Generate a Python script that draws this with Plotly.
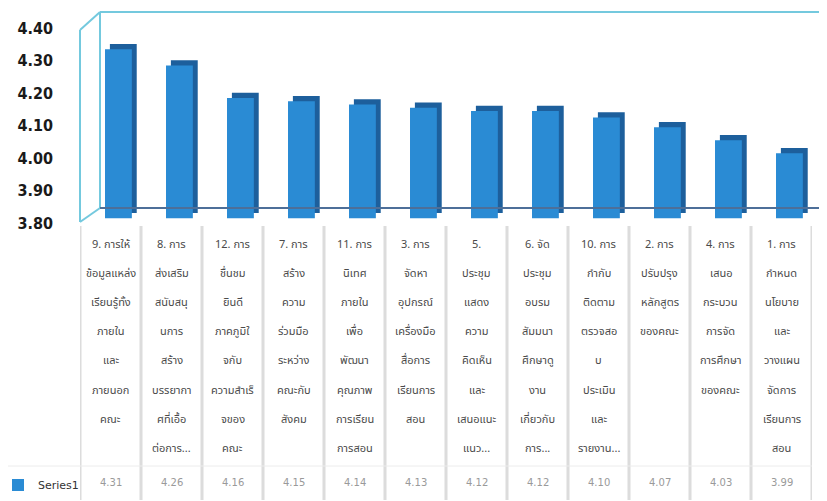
import plotly.graph_objects as go

# ---------------------------------------------------------------------------
# data
# ---------------------------------------------------------------------------
SERIES_NAME = "Series1"

LABEL_LINES = [
    ["9. การให้", "ข้อมูลแหล่ง", "เรียนรู้ทั้ง", "ภายใน", "และ", "ภายนอก", "คณะ"],
    ["8. การ", "ส่งเสริม", "สนับสนุ", "นการ", "สร้าง", "บรรยากา", "ศที่เอื้อ", "ต่อการ..."],
    ["12. การ", "ชื่นชม", "ยินดี", "ภาคภูมิใ", "จกับ", "ความสำเร็", "จของ", "คณะ"],
    ["7. การ", "สร้าง", "ความ", "ร่วมมือ", "ระหว่าง", "คณะกับ", "สังคม"],
    ["11. การ", "นิเทศ", "ภายใน", "เพื่อ", "พัฒนา", "คุณภาพ", "การเรียน", "การสอน"],
    ["3. การ", "จัดหา", "อุปกรณ์", "เครื่องมือ", "สื่อการ", "เรียนการ", "สอน"],
    ["5.", "ประชุม", "แสดง", "ความ", "คิดเห็น", "และ", "เสนอแนะ", "แนว..."],
    ["6. จัด", "ประชุม", "อบรม", "สัมมนา", "ศึกษาดู", "งาน", "เกี่ยวกับ", "การ..."],
    ["10. การ", "กำกับ", "ติดตาม", "ตรวจสอ", "บ", "ประเมิน", "และ", "รายงาน..."],
    ["2. การ", "ปรับปรุง", "หลักสูตร", "ของคณะ"],
    ["4. การ", "เสนอ", "กระบวน", "การจัด", "การศึกษา", "ของคณะ"],
    ["1. การ", "กำหนด", "นโยบาย", "และ", "วางแผน", "จัดการ", "เรียนการ", "สอน"],
]
CATEGORIES = ["".join(lines) for lines in LABEL_LINES]
VALUES = [4.31, 4.26, 4.16, 4.15, 4.14, 4.13, 4.12, 4.12, 4.10, 4.07, 4.03, 3.99]
Y_TICKS = [3.80, 3.90, 4.00, 4.10, 4.20, 4.30, 4.40]

# ---------------------------------------------------------------------------
# layout helpers
# the page body has an 8px margin, so the figure sits at (8, 8) on screen.
# positions below are given in screen pixels and converted to paper units.
# ---------------------------------------------------------------------------
OFF = 8
W, H = 827 - OFF, 501 - OFF
L, T = 80 - OFF, 28 - OFF
R = W - (812 - OFF)
B = H - (223 - OFF)
PW, PH = W - L - R, H - T - B


def px(x):
    return (x - OFF - L) / PW


def py(y):
    return (H - B - (y - OFF)) / PH


THAI_FONT = "Noto Sans Thai, Loma, Garuda, Tlwg Typo, DejaVu Sans, sans-serif"
FRAME = "#74c9de"
Y_RANGE = [3.8, 4.4]           # axis that carries the tick labels
Y2_RANGE = [3.775, 4.375]      # bars are drawn a little "higher" (3D view)
BASE = 3.79
DEPTH_X, DEPTH_Y = 0.08, 0.016
SHIFT = Y_RANGE[0] - Y2_RANGE[0]

fig = go.Figure()

# side / top faces (darker, shifted back) -> on the label axis
fig.add_trace(go.Bar(
    x=CATEGORIES, y=[v - BASE for v in VALUES], base=BASE + DEPTH_Y + SHIFT,
    offset=-0.09 + DEPTH_X, width=0.44,
    marker=dict(color="#1d5f9c", line=dict(width=0)),
    yaxis="y", showlegend=False, hoverinfo="skip",
))
# front faces
fig.add_trace(go.Bar(
    x=CATEGORIES, y=[v - BASE for v in VALUES], base=BASE,
    offset=-0.09, width=0.44,
    marker=dict(color="#2a8bd4", line=dict(width=0)),
    yaxis="y2", name=SERIES_NAME,
    customdata=VALUES, hovertemplate="%{customdata:.2f}<extra></extra>",
))

shapes = []
# 3D frame
for x0, y0, x1, y1 in [
    (100, 12, 830, 12), (100, 12, 100, 208), (80, 30, 80, 222),
    (80, 30, 100, 12), (80, 222, 100, 208),
]:
    shapes.append(dict(type="line", xref="paper", yref="paper",
                       x0=px(x0), y0=py(y0), x1=px(x1), y1=py(y1),
                       line=dict(color=FRAME, width=2)))
shapes.append(dict(type="line", xref="paper", yref="paper",
                   x0=px(823), y0=py(14), x1=px(823), y1=py(208),
                   line=dict(color="#dde9ee", width=1.5)))
shapes.append(dict(type="line", xref="paper", yref="paper",
                   x0=px(100), y0=py(208), x1=px(830), y1=py(208),
                   line=dict(color="#4d6f99", width=2)))

# data table grid
for i in range(len(CATEGORIES) + 1):
    shapes.append(dict(type="line", xref="x", yref="paper",
                       x0=i - 0.5, x1=i - 0.5, y0=py(226), y1=py(500),
                       line=dict(color="#dcdcdc", width=3)))
for yy in [466]:
    shapes.append(dict(type="line", xref="paper", yref="paper",
                       x0=px(8), x1=px(812), y0=py(yy), y1=py(yy),
                       line=dict(color="#ececec", width=1)))

annotations = []
for i, lines in enumerate(LABEL_LINES):
    for j, line in enumerate(lines):
        annotations.append(dict(
            x=i, y=py(244 + j * 29.2), xref="x", yref="paper",
            text=line, showarrow=False, xanchor="center", yanchor="middle",
            font=dict(family=THAI_FONT, size=11, color="#4a4a4a"),
        ))
    annotations.append(dict(
        x=i, y=py(483), xref="x", yref="paper",
        text=f"{VALUES[i]:.2f}", showarrow=False, xanchor="center", yanchor="middle",
        font=dict(family="DejaVu Sans", size=10, color="#9a9a9a"),
    ))

fig.update_layout(
    width=W, height=H,
    margin=dict(l=L, r=R, t=T, b=B, autoexpand=False),
    paper_bgcolor="white", plot_bgcolor="rgba(0,0,0,0)",
    barmode="overlay",
    xaxis=dict(type="category", range=[-0.5, len(CATEGORIES) - 0.5],
               showticklabels=False, showgrid=False, zeroline=False, showline=False),
    yaxis=dict(range=Y_RANGE, tickvals=Y_TICKS, tickformat=".2f",
               showgrid=False, zeroline=False, showline=False,
               ticks="", ticklabelstandoff=26,
               tickfont=dict(family="DejaVu Sans Condensed", size=16,
                             color="#1a1a1a", weight="bold")),
    yaxis2=dict(range=Y2_RANGE, overlaying="y", showticklabels=False,
                showgrid=False, zeroline=False, showline=False),
    shapes=shapes,
    annotations=annotations,
    showlegend=True,
    legend=dict(xref="paper", yref="paper",
                x=px(-2), y=py(485),
                xanchor="left", yanchor="middle", itemwidth=30,
                bgcolor="rgba(0,0,0,0)",
                font=dict(family="DejaVu Sans", size=11, color="#333333")),
)

fig.write_html("out.html")
